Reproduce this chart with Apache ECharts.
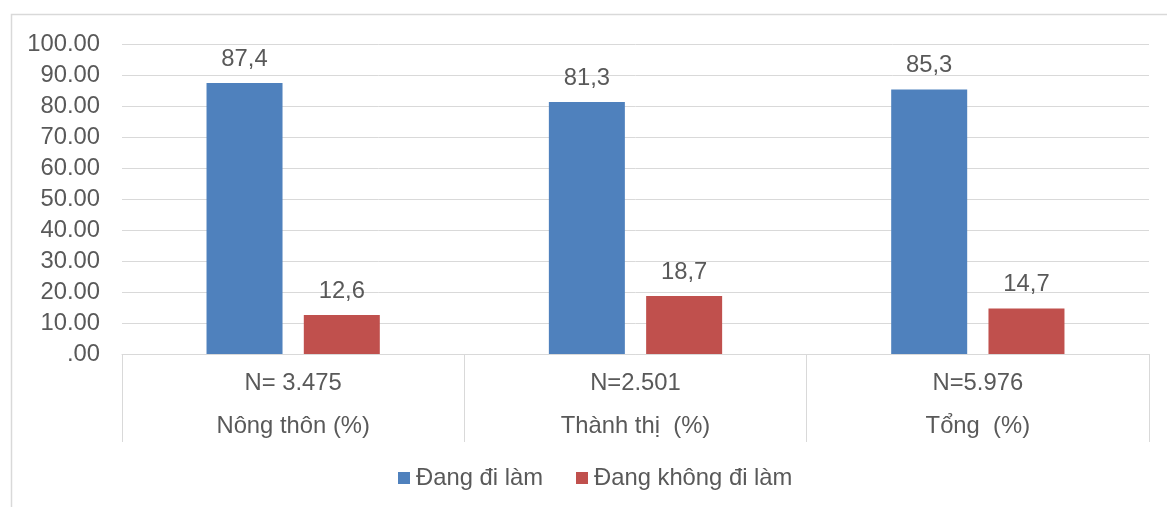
<!DOCTYPE html>
<html><head><meta charset="utf-8">
<script src="https://cdn.jsdelivr.net/npm/echarts@6/dist/echarts.min.js"></script>
<style>html,body{margin:0;padding:0;background:#fff}#c{width:1167px;height:507px}</style>
</head><body><div id="c"></div>
<script>
const categories = ['N= 3.475\nNông thôn (%)', 'N=2.501\nThành thị  (%)', 'N=5.976\nTổng  (%)'];
const seriesNames = ['Đang đi làm', 'Đang không đi làm'];
const working = [87.4, 81.3, 85.3];
const notWorking = [12.6, 18.7, 14.7];
const yTicks = [0, 10, 20, 30, 40, 50, 60, 70, 80, 90, 100];

const FONT = '"Liberation Sans", Arial, sans-serif';
const TXT = '#595959';
const FS = 23.8;
const chart = echarts.init(document.getElementById('c'), null, {renderer: 'canvas'});
const lbl = {
  show: true, position: 'top', distance: 12,
  color: TXT, fontSize: FS, fontFamily: FONT,
  formatter: p => String(p.value).replace('.', ',')
};
chart.setOption({
  animation: false,
  backgroundColor: '#fff',
  graphic: [{
    type: 'rect', silent: true,
    shape: {x: 11.5, y: 14.5, width: 1300, height: 700},
    style: {fill: 'none', stroke: '#d9d9d9', lineWidth: 1.5}
  }],
  legend: {
    data: seriesNames, bottom: 12, left: 393,
    itemWidth: 12, itemHeight: 12, itemGap: 33, icon: 'rect',
    textStyle: {color: TXT, fontSize: FS, fontFamily: FONT, padding: [0, 0, 0, 1]}
  },
  grid: {left: 122, right: 18, top: 44, bottom: 153, containLabel: false},
  xAxis: {
    type: 'category', data: categories,
    axisLine: {lineStyle: {color: '#d9d9d9', width: 1}},
    axisTick: {show: true, length: 88, lineStyle: {color: '#d9d9d9', width: 1}},
    axisLabel: {color: TXT, fontSize: FS, fontFamily: FONT, lineHeight: 43, margin: 8}
  },
  yAxis: {
    type: 'value', min: 0, max: 100, interval: 10,
    axisLine: {show: false}, axisTick: {show: false},
    splitLine: {lineStyle: {color: '#d9d9d9', width: 1}},
    axisLabel: {
      color: TXT, fontSize: FS, fontFamily: FONT, margin: 22,
      formatter: v => yTicks.includes(v) ? (v === 0 ? '.00' : v.toFixed(2)) : ''
    }
  },
  series: [
    {name: seriesNames[0], type: 'bar', data: working, barWidth: 76, barGap: '28%',
     itemStyle: {color: '#4f81bd'}, label: lbl},
    {name: seriesNames[1], type: 'bar', data: notWorking, barWidth: 76,
     itemStyle: {color: '#c0504d'}, label: lbl}
  ]
});
</script></body></html>
